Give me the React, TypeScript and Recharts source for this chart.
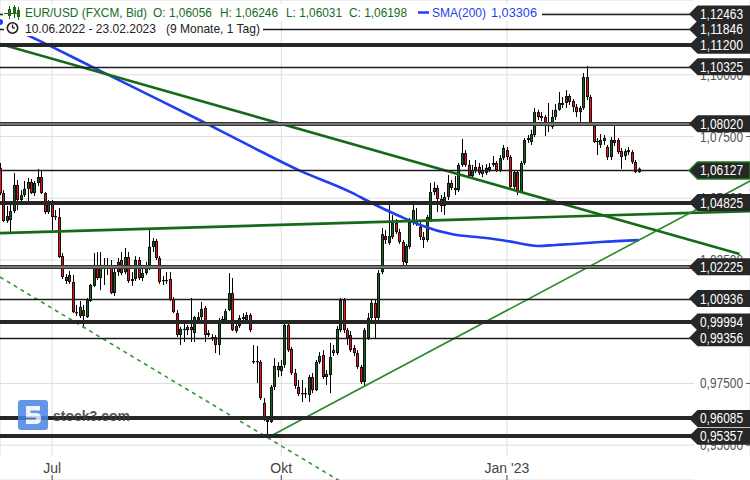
import React from 'react';
import { ComposedChart, Bar, Line, XAxis, YAxis, ReferenceLine, CartesianGrid } from 'recharts';

const W = 750;
const H = 480;

const openP = [
  1.0623, 1.0521, 1.0408, 1.0412, 1.0448, 1.0554, 1.0493, 1.0513, 1.0538, 1.0566,
  1.0521, 1.0562, 1.0586, 1.0521, 1.0444, 1.0481, 1.0428, 1.0424, 1.0266, 1.0181,
  1.0161, 1.0161, 1.0039, 1.0023, 1.0047, 1.0019, 1.0084, 1.0145, 1.0230, 1.0177,
  1.0230, 1.0222, 1.0222, 1.0116, 1.0201, 1.0250, 1.0201, 1.0262, 1.0165, 1.0173,
  1.0250, 1.0177, 1.0197, 1.0218, 1.0303, 1.0327, 1.0258, 1.0165, 1.0169, 1.0173,
  1.0092, 1.0035, 0.9946, 0.9971, 0.9966, 0.9979, 0.9954, 1.0007, 1.0019, 1.0056,
  0.9946, 0.9938, 0.9938, 0.9906, 1.0003, 1.0007, 1.0047, 1.0116, 0.9962, 0.9983,
  1.0011, 1.0007, 1.0027, 0.9841, 0.9841, 0.9837, 0.9671, 0.9602, 0.9594, 0.9736,
  0.9821, 0.9800, 0.9825, 0.9987, 0.9890, 0.9792, 0.9736, 0.9711, 0.9707, 0.9703,
  0.9776, 0.9723, 0.9837, 0.9865, 0.9788, 0.9784, 0.9885, 0.9873, 0.9966, 1.0088,
  0.9966, 0.9946, 0.9894, 0.9873, 0.9817, 0.9756, 0.9934, 1.0015, 1.0076, 1.0015,
  1.0201, 1.0347, 1.0319, 1.0343, 1.0400, 1.0363, 1.0323, 1.0238, 1.0303, 1.0400,
  1.0412, 1.0384, 1.0343, 1.0331, 1.0412, 1.0525, 1.0542, 1.0497, 1.0469, 1.0505,
  1.0562, 1.0542, 1.0533, 1.0635, 1.0683, 1.0635, 1.0590, 1.0610, 1.0627, 1.0614,
  1.0602, 1.0614, 1.0643, 1.0643, 1.0614, 1.0663, 1.0695, 1.0667, 1.0546, 1.0606,
  1.0525, 1.0643, 1.0736, 1.0728, 1.0756, 1.0849, 1.0833, 1.0829, 1.0793, 1.0789,
  1.0829, 1.0858, 1.0886, 1.0886, 1.0914, 1.0894, 1.0870, 1.0849, 1.0866, 1.0991,
  1.0910, 1.0793, 1.0728, 1.0716, 1.0732, 1.0708, 1.0667, 1.0736, 1.0736, 1.0691,
  1.0671, 1.0695, 1.0687, 1.0647, 1.06056,
];

const highP = [
  1.0643, 1.0533, 1.0469, 1.0481, 1.0602, 1.0574, 1.0533, 1.0570, 1.0582, 1.0578,
  1.0570, 1.0619, 1.0614, 1.0525, 1.0493, 1.0493, 1.0452, 1.0461, 1.0278, 1.0193,
  1.0205, 1.0189, 1.0068, 1.0084, 1.0068, 1.0096, 1.0153, 1.0278, 1.0282, 1.0282,
  1.0258, 1.0258, 1.0250, 1.0218, 1.0258, 1.0282, 1.0299, 1.0282, 1.0201, 1.0266,
  1.0262, 1.0226, 1.0242, 1.0371, 1.0339, 1.0335, 1.0266, 1.0185, 1.0201, 1.0201,
  1.0100, 1.0047, 0.9979, 0.9991, 0.9987, 1.0096, 1.0023, 1.0039, 1.0080, 1.0064,
  0.9966, 0.9950, 0.9946, 1.0015, 1.0023, 1.0052, 1.0197, 1.0177, 0.9999, 1.0027,
  1.0035, 1.0039, 1.0035, 0.9906, 0.9902, 0.9845, 0.9691, 0.9614, 0.9744, 0.9853,
  0.9837, 0.9845, 0.9991, 1.0003, 0.9898, 0.9809, 0.9764, 0.9764, 0.9732, 0.9784,
  0.9792, 0.9845, 0.9877, 0.9885, 0.9804, 0.9914, 0.9906, 0.9983, 1.0096, 1.0096,
  0.9975, 0.9962, 0.9906, 0.9885, 0.9825, 0.9975, 1.0035, 1.0088, 1.0088, 1.0209,
  1.0380, 1.0371, 1.0481, 1.0432, 1.0416, 1.0376, 1.0331, 1.0315, 1.0420, 1.0473,
  1.0461, 1.0408, 1.0363, 1.0432, 1.0562, 1.0566, 1.0554, 1.0513, 1.0525, 1.0594,
  1.0574, 1.0590, 1.0643, 1.0740, 1.0695, 1.0655, 1.0635, 1.0655, 1.0643, 1.0635,
  1.0639, 1.0643, 1.0671, 1.0651, 1.0675, 1.0716, 1.0708, 1.0675, 1.0614, 1.0614,
  1.0651, 1.0744, 1.0756, 1.0777, 1.0866, 1.0858, 1.0849, 1.0837, 1.0886, 1.0858,
  1.0882, 1.0930, 1.0910, 1.0938, 1.0922, 1.0902, 1.0882, 1.0874, 1.1007, 1.1036,
  1.0918, 1.0801, 1.0744, 1.0760, 1.0756, 1.0716, 1.0748, 1.0805, 1.0744, 1.0704,
  1.0700, 1.0708, 1.0695, 1.0655, 1.06246,
];

const lowP = [
  1.0513, 1.0404, 1.0400, 1.0363, 1.0440, 1.0452, 1.0481, 1.0505, 1.0481, 1.0517,
  1.0509, 1.0550, 1.0517, 1.0436, 1.0436, 1.0371, 1.0412, 1.0258, 1.0173, 1.0153,
  1.0153, 1.0035, 1.0023, 1.0015, 0.9975, 1.0015, 1.0080, 1.0141, 1.0169, 1.0128,
  1.0149, 1.0189, 1.0112, 1.0104, 1.0185, 1.0189, 1.0193, 1.0157, 1.0145, 1.0165,
  1.0169, 1.0165, 1.0189, 1.0209, 1.0282, 1.0250, 1.0153, 1.0149, 1.0153, 1.0084,
  1.0035, 0.9938, 0.9906, 0.9918, 0.9946, 0.9918, 0.9918, 0.9999, 1.0007, 0.9918,
  0.9938, 0.9922, 0.9873, 0.9865, 0.9995, 0.9999, 1.0043, 0.9962, 0.9954, 0.9975,
  1.0003, 0.9999, 0.9958, 0.9829, 0.9752, 0.9683, 0.9598, 0.9537, 0.9590, 0.9723,
  0.9776, 0.9780, 0.9813, 0.9877, 0.9784, 0.9728, 0.9699, 0.9675, 0.9691, 0.9675,
  0.9711, 0.9719, 0.9829, 0.9768, 0.9744, 0.9711, 0.9861, 0.9865, 0.9958, 0.9954,
  0.9906, 0.9877, 0.9861, 0.9809, 0.9748, 0.9736, 0.9926, 1.0007, 0.9930, 1.0007,
  1.0193, 1.0315, 1.0311, 1.0335, 1.0355, 1.0315, 1.0230, 1.0230, 1.0295, 1.0392,
  1.0388, 1.0331, 1.0299, 1.0323, 1.0404, 1.0513, 1.0444, 1.0444, 1.0432, 1.0493,
  1.0533, 1.0513, 1.0525, 1.0627, 1.0627, 1.0582, 1.0582, 1.0602, 1.0594, 1.0586,
  1.0594, 1.0606, 1.0627, 1.0606, 1.0606, 1.0655, 1.0655, 1.0542, 1.0533, 1.0513,
  1.0521, 1.0635, 1.0724, 1.0716, 1.0748, 1.0817, 1.0813, 1.0752, 1.0768, 1.0781,
  1.0817, 1.0854, 1.0866, 1.0866, 1.0878, 1.0849, 1.0829, 1.0805, 1.0858, 1.0898,
  1.0793, 1.0724, 1.0675, 1.0704, 1.0716, 1.0655, 1.0655, 1.0712, 1.0679, 1.0619,
  1.0655, 1.0675, 1.0639, 1.0602, 1.06031,
];

const closeP = [
  1.0521, 1.0408, 1.0428, 1.0448, 1.0554, 1.0493, 1.0513, 1.0538, 1.0566, 1.0521,
  1.0562, 1.0586, 1.0521, 1.0444, 1.0481, 1.0424, 1.0424, 1.0262, 1.0181, 1.0165,
  1.0189, 1.0039, 1.0035, 1.0060, 1.0023, 1.0088, 1.0149, 1.0230, 1.0177, 1.0230,
  1.0222, 1.0218, 1.0116, 1.0201, 1.0242, 1.0197, 1.0262, 1.0165, 1.0173, 1.0250,
  1.0177, 1.0197, 1.0218, 1.0303, 1.0327, 1.0258, 1.0161, 1.0169, 1.0165, 1.0088,
  1.0039, 0.9946, 0.9971, 0.9966, 0.9979, 0.9966, 1.0019, 1.0019, 1.0052, 0.9946,
  0.9954, 0.9930, 0.9906, 1.0007, 1.0011, 1.0043, 1.0116, 0.9966, 0.9983, 1.0015,
  1.0019, 1.0027, 0.9966, 0.9837, 0.9837, 0.9691, 0.9602, 0.9594, 0.9736, 0.9821,
  0.9804, 0.9821, 0.9987, 0.9885, 0.9792, 0.9740, 0.9707, 0.9707, 0.9711, 0.9776,
  0.9723, 0.9837, 0.9861, 0.9776, 0.9776, 0.9857, 0.9873, 0.9971, 1.0088, 0.9966,
  0.9934, 0.9885, 0.9873, 0.9817, 0.9756, 0.9966, 1.0015, 1.0076, 1.0015, 1.0197,
  1.0355, 1.0331, 1.0347, 1.0400, 1.0363, 1.0323, 1.0242, 1.0307, 1.0404, 1.0452,
  1.0400, 1.0343, 1.0331, 1.0424, 1.0525, 1.0542, 1.0497, 1.0469, 1.0505, 1.0562,
  1.0542, 1.0533, 1.0635, 1.0683, 1.0635, 1.0590, 1.0614, 1.0627, 1.0602, 1.0598,
  1.0623, 1.0627, 1.0635, 1.0614, 1.0663, 1.0704, 1.0667, 1.0546, 1.0606, 1.0525,
  1.0643, 1.0736, 1.0744, 1.0760, 1.0849, 1.0829, 1.0825, 1.0793, 1.0797, 1.0829,
  1.0858, 1.0886, 1.0878, 1.0914, 1.0890, 1.0870, 1.0849, 1.0866, 1.0991, 1.0910,
  1.0797, 1.0728, 1.0732, 1.0736, 1.0744, 1.0667, 1.0736, 1.0724, 1.0687, 1.0667,
  1.0691, 1.0687, 1.0647, 1.0606, 1.06198,
];

// SMA(200) read at selected candles
const smaIdx = [0, 15, 29, 43, 58, 72, 86, 101, 107, 115, 121, 130, 140, 146, 155, 160, 165, 173, 184];
const smaVal = [1.1214, 1.1113, 1.1015, 1.0918, 1.0813, 1.0712, 1.0614, 1.0525, 1.0481, 1.0428, 1.0392, 1.0355, 1.0339, 1.0327, 1.0307, 1.0311, 1.0315, 1.0323, 1.03306];

const xTickIdx = [15, 81, 146];
const xTickText = ['Jul', 'Okt', "Jan '23"];
const yTicks = [0.95, 0.975, 1.0, 1.025, 1.05, 1.075, 1.1, 1.125];

const levelVals = [1.12463, 1.11846, 1.112, 1.10325, 1.0802, 1.06127, 1.04825, 1.02225, 1.00936, 0.99994, 0.99356, 0.96085, 0.95357];
const levelKind = ['thin', 'thin', 'thick', 'thin', 'gray', 'thin', 'thick', 'gray', 'thin', 'thick', 'thin', 'thick', 'thick'];

// trend lines: [x1 index, y1 price, x2 index, y2 price]
const trendX1 = [0, 0, 78, 0];
const trendY1 = [1.1125, 1.0359, 0.9537, 1.0181];
const trendX2 = [213, 216, 216, 100];
const trendY2 = [1.0274, 1.0448, 1.057, 0.9337];
const trendKind = ['thick', 'thick', 'thin', 'dash'];

const Y_MIN = 0.9359;
const Y_MAX = 1.1303;
const FONT = '"Liberation Sans", Arial, sans-serif';

const fmt = (v: number) => v.toFixed(5).replace('.', ',');

const rows = openP.map((o, i) => {
  const k = smaIdx.indexOf(i);
  return {
    i,
    o,
    h: highP[i],
    l: lowP[i],
    c: closeP[i],
    range: [lowP[i], highP[i]],
    sma: k >= 0 ? smaVal[k] : null,
  };
});

const Candle = (props: any) => {
  const { x, y, width, height, payload } = props;
  if (!payload || x == null) return null;
  const { o, h, l, c } = payload;
  const cx = Math.round(x + width / 2) + 0.5;
  const ratio = h === l ? 0 : height / (h - l);
  const yO = y + (h - o) * ratio;
  const yC = y + (h - c) * ratio;
  const top = Math.min(yO, yC);
  const bot = Math.max(yO, yC);
  const bh = Math.max(bot - top, 1.2);
  const up = c >= o;
  return (
    <g>
      <line x1={cx} x2={cx} y1={y} y2={y + height} stroke="#000" strokeWidth={1} />
      <rect x={cx - 1.5} y={top} width={3} height={bh} fill="#111" />
      {bh > 2.5 && (
        <rect x={cx - 0.5} y={top + 1} width={1} height={bh - 2} fill={up ? '#0b6a16' : '#ff0a14'} />
      )}
    </g>
  );
};

const renderLevel = (p: any, k: number) => {
  const y = p.y1;
  if (y == null || isNaN(y)) return null;
  const kind = levelKind[k];
  const x0 = Math.min(p.x1, p.x2);
  const xe = 692;
  const yr = Math.round(y);
  return (
    <g>
      {kind === 'thin' && <line x1={x0} x2={xe} y1={yr + 0.5} y2={yr + 0.5} stroke="#1c1c1c" strokeWidth={1.3} />}
      {kind === 'thick' && <line x1={x0} x2={xe} y1={yr} y2={yr} stroke="#262626" strokeWidth={4} />}
      {kind === 'gray' && (
        <g>
          <line x1={x0} x2={xe} y1={yr} y2={yr} stroke="#333" strokeWidth={4} />
          <line x1={x0} x2={xe} y1={yr} y2={yr} stroke="#8c8c8c" strokeWidth={1.6} />
        </g>
      )}
      <polygon
        points={`689,${y} 697.5,${y - 8.5} 750,${y - 8.5} 750,${y + 8.5} 697.5,${y + 8.5}`}
        fill="#272727"
        stroke={k === 5 ? '#1f7a1f' : 'none'}
        strokeWidth={1.5}
      />
      <text
        x={700}
        y={y + 5}
        fill="#ffffff"
        fontSize={14}
        fontFamily={FONT}
        textLength={43}
        lengthAdjust="spacingAndGlyphs"
      >
        {fmt(levelVals[k])}
      </text>
    </g>
  );
};

const YTick = (p: any) => (
  <text
    x={p.x}
    y={p.y + 5}
    textAnchor="end"
    fill="#555"
    fontSize={14}
    fontFamily={FONT}
    textLength={43}
    lengthAdjust="spacingAndGlyphs"
  >
    {fmt(p.payload.value)}
  </text>
);

const XTick = (p: any) => {
  const k = xTickIdx.indexOf(p.payload.value);
  return (
    <text x={p.x} y={p.y} textAnchor="middle" fill="#444" fontSize={14} fontFamily={FONT}>
      {k >= 0 ? xTickText[k] : ''}
    </text>
  );
};

const trendStroke = (k: number) =>
  trendKind[k] === 'thick'
    ? { stroke: '#17691a', strokeWidth: 2.6 }
    : trendKind[k] === 'thin'
    ? { stroke: '#2a8a2a', strokeWidth: 1.6 }
    : { stroke: '#2f9a30', strokeWidth: 1.6, strokeDasharray: '4 4' };

export default function App() {
  return (
    <div style={{ position: 'absolute', left: 0, top: 0, width: W, height: H, background: '#fff', overflow: 'hidden' }}>
      <ComposedChart width={W} height={H} data={rows} margin={{ top: 0, right: 0, bottom: 0, left: 0 }}>
        <CartesianGrid stroke="#dedede" strokeWidth={1} x={0} y={0} width={694} height={456} />
        <XAxis
          dataKey="i"
          type="number"
          domain={[0, 216]}
          allowDataOverflow
          ticks={xTickIdx}
          interval={0}
          mirror
          axisLine={false}
          tickSize={5}
          tickMargin={2}
          tickLine={{ stroke: '#444' }}
          tick={<XTick />}
        />
        <YAxis
          type="number"
          orientation="right"
          mirror
          domain={[Y_MIN, Y_MAX]}
          allowDataOverflow
          ticks={yTicks}
          interval={0}
          axisLine={false}
          tickSize={4}
          tickMargin={3}
          tickLine={{ stroke: '#555' }}
          tick={<YTick />}
        />
        <Bar dataKey="range" barSize={3} shape={<Candle />} isAnimationActive={false} />
        <Line
          dataKey="sma"
          type="monotone"
          stroke="#1f3ff0"
          strokeWidth={2.6}
          dot={false}
          connectNulls
          isAnimationActive={false}
        />
        {trendX1.map((x1, k) => (
          <ReferenceLine
            key={'t' + k}
            segment={[
              { x: x1, y: trendY1[k] },
              { x: trendX2[k], y: trendY2[k] },
            ]}
            ifOverflow="visible"
            {...trendStroke(k)}
          />
        ))}
        {levelVals.map((v, k) => (
          <ReferenceLine
            key={'l' + k}
            y={v}
            ifOverflow="visible"
            zIndex={2500}
            shape={(p: any) => renderLevel(p, k)}
          />
        ))}
      </ComposedChart>
      <svg
        width={W}
        height={H}
        style={{ position: 'absolute', left: 0, top: 0, pointerEvents: 'none' }}
        fontFamily={FONT}
      >
        <rect x={3} y={4} width={539} height={17} fill="#fff" />
        <rect x={4} y={21} width={259} height={15} fill="#fff" />
        {/* candle icon */}
        <line x1={4} x2={20} y1={13.5} y2={13.5} stroke="#1a6a1a" strokeWidth={1} />
        <line x1={9.5} x2={9.5} y1={6} y2={19} stroke="#1a6a1a" strokeWidth={1} />
        <rect x={8} y={9} width={3} height={7} fill="#1a6a1a" />
        <line x1={14.5} x2={14.5} y1={5} y2={18} stroke="#1a6a1a" strokeWidth={1} />
        <rect x={13} y={7} width={3} height={6} fill="#1a6a1a" />
        <line x1={18.5} x2={18.5} y1={7} y2={20} stroke="#1a6a1a" strokeWidth={1} />
        <rect x={17} y={10} width={3} height={7} fill="#1a6a1a" />
        <text x={25} y={17} fontSize={13} fill="#126e18" textLength={122} lengthAdjust="spacingAndGlyphs">
          EUR/USD (FXCM, Bid)
        </text>
        <text x={153} y={17} fontSize={13} fill="#126e18" textLength={59} lengthAdjust="spacingAndGlyphs">
          O: 1,06056
        </text>
        <text x={220} y={17} fontSize={13} fill="#126e18" textLength={58} lengthAdjust="spacingAndGlyphs">
          H: 1,06246
        </text>
        <text x={286} y={17} fontSize={13} fill="#126e18" textLength={56} lengthAdjust="spacingAndGlyphs">
          L: 1,06031
        </text>
        <text x={349} y={17} fontSize={13} fill="#126e18" textLength={58} lengthAdjust="spacingAndGlyphs">
          C: 1,06198
        </text>
        <line x1={418} x2={429} y1={12.5} y2={12.5} stroke="#1f3ff0" strokeWidth={2.5} />
        <text x={432} y={17} fontSize={13} fill="#1f3ff0" textLength={54} lengthAdjust="spacingAndGlyphs">
          SMA(200)
        </text>
        <text x={491} y={17} fontSize={13} fill="#1f3ff0" textLength={46} lengthAdjust="spacingAndGlyphs">
          1,03306
        </text>
        {/* clock icon */}
        <circle cx={12.5} cy={28} r={5.2} fill="#fff" stroke="#1e1e1e" strokeWidth={1.6} />
        <line x1={12.5} x2={12.5} y1={28} y2={24.5} stroke="#1e1e1e" strokeWidth={1.3} />
        <line x1={12.5} x2={15} y1={28} y2={28} stroke="#1e1e1e" strokeWidth={1.3} />
        <text x={25} y={33} fontSize={13} fill="#222" textLength={131} lengthAdjust="spacingAndGlyphs">
          10.06.2022 - 23.02.2023
        </text>
        <text x={166} y={33} fontSize={13} fill="#222" textLength={94} lengthAdjust="spacingAndGlyphs">
          (9 Monate, 1 Tag)
        </text>
        {/* watermark */}
        <g opacity={0.85}>
          <rect x={18} y={400} width={30} height={30} rx={3} fill="#4a84e4" />
          <path
            d="M26 406 H40 V410.5 H30.5 V413 H36 Q41 413 41 418 V419 Q41 424 36 424 H26 V419.5 H36 V417.5 H26 Z"
            fill="#ffffff"
            opacity={0.9}
          />
          <text x={53} y={421} fontSize={15} fontWeight="bold" fill="#3a3a3a" textLength={77} lengthAdjust="spacingAndGlyphs">
            stock3.com
          </text>
        </g>
      </svg>
    </div>
  );
}
